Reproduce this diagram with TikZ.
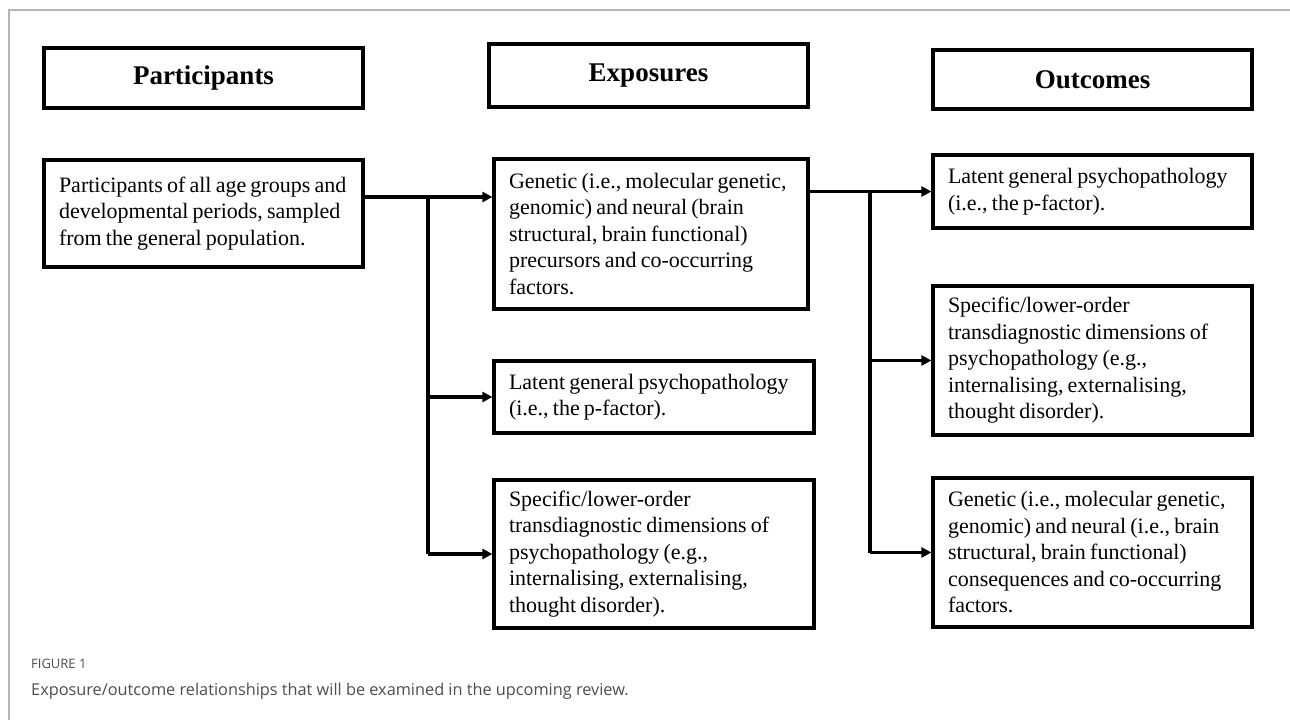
\documentclass[tikz,border=0pt]{standalone}
\usepackage{fontspec}
\setmainfont{Liberation Serif}
\newfontfamily\capfont{Open Sans}
\usetikzlibrary{arrows.meta}
\definecolor{framegray}{HTML}{B4B4B4}
\definecolor{capgray}{HTML}{4D4D4D}
\newcommand{\tightwords}{\spaceskip=0.19em plus 0.05em minus 0.03em\relax}
\begin{document}
\begin{tikzpicture}[x=1pt,y=-1pt,
  header/.style={draw,line width=3.2pt,inner sep=0pt,
    font=\fontsize{27}{31}\selectfont\bfseries},
  itembox/.style={draw,line width=3.2pt,inner xsep=15pt,inner ysep=4pt,
    align=left,font=\fontsize{22}{26.5}\selectfont,
    execute at begin node=\tightwords},
  conn/.style={line width=3.3pt},
  arr/.style={line width=3.3pt,-{Triangle[length=10pt,width=10pt]}},
  caphead/.style={anchor=base west,inner sep=0pt,text=capgray,
    font=\capfont\fontsize{13}{15}\selectfont},
  captext/.style={anchor=base west,inner sep=0pt,text=capgray,
    font=\capfont\fontsize{16.3}{19}\selectfont}]
\useasboundingbox (0,0) rectangle (1290,720);
% page frame
\draw[framegray,line width=1.2pt] (9,720) -- (9,10) -- (1290,10);

% column headers
\node[header,minimum width=319pt,minimum height=60pt] (phead) at (203.5,78) {Participants};
\node[header,minimum width=319pt,minimum height=63pt] (ehead) at (648.5,75.5) {Exposures};
\node[header,minimum width=319pt,minimum height=59pt] (ohead) at (1092.5,79.5) {Outcomes};

% participants
\node[itembox,text width=289pt,minimum height=107pt] (part) at (203.5,213.5)
  {Participants of all age groups and\\developmental periods, sampled\\from the general population.\par\vspace*{12pt}};

% exposures
\node[itembox,text width=284pt,minimum height=150pt] (exp1) at (651,234)
  {Genetic (i.e., molecular genetic,\\genomic) and neural (brain\\structural, brain functional)\\precursors and co-occurring\\factors.};
\node[itembox,text width=290pt,minimum height=72pt] (exp2) at (654,397)
  {Latent general psychopathology\\(i.e., the p-factor).};
\node[itembox,text width=290pt,minimum height=148pt] (exp3) at (654,554)
  {Specific/lower-order\\transdiagnostic dimensions of\\psychopathology (e.g.,\\internalising, externalising,\\thought disorder).};

% outcomes
\node[itembox,text width=289pt,minimum height=73pt] (out1) at (1092.5,191.5)
  {Latent general psychopathology\\(i.e., the p-factor).};
\node[itembox,text width=289pt,minimum height=149pt] (out2) at (1092.5,360.5)
  {Specific/lower-order\\transdiagnostic dimensions of\\psychopathology (e.g.,\\internalising, externalising,\\thought disorder).};
\node[itembox,text width=289pt,minimum height=149pt] (out3) at (1092.5,552.5)
  {Genetic (i.e., molecular genetic,\\genomic) and neural (i.e., brain\\structural, brain functional)\\consequences and co-occurring\\factors.};

% participants -> exposures
\coordinate (pj) at (428,197);
\draw[conn] (part.east |- pj) -- (pj);
\draw[conn] (pj) -- (pj |- exp3.west);
\draw[arr] (pj) -- (exp1.west |- pj);
\draw[arr] (pj |- exp2.west) -- (exp2.west);
\draw[arr] (pj |- exp3.west) -- (exp3.west);

% exposures -> outcomes
\coordinate (oj) at (870,191.5);
\draw[conn] (exp1.east |- oj) -- (oj);
\draw[conn] (oj) -- (oj |- out3.west);
\draw[arr] (oj) -- (out1.west);
\draw[arr] (oj |- out2.west) -- (out2.west);
\draw[arr] (oj |- out3.west) -- (out3.west);

% caption
\node[caphead] (fig) at (31,668) {FIGURE 1};
\node[captext] (cap) at (31,695) {Exposure/outcome relationships that will be examined in the upcoming review.};
\end{tikzpicture}
\end{document}
